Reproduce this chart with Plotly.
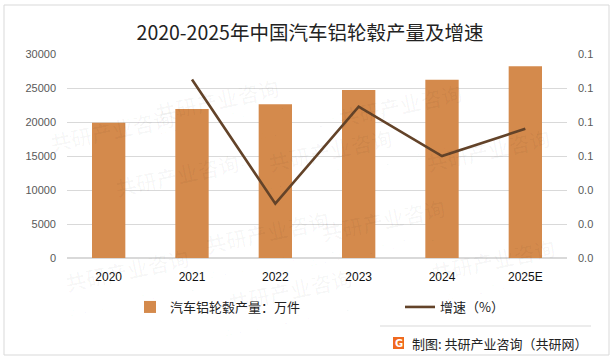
import plotly.graph_objects as go

categories = ["2020", "2021", "2022", "2023", "2024", "2025E"]
output_values = [19900, 21900, 22600, 24700, 26200, 28200]
growth_values = [None, 0.105, 0.032, 0.089, 0.060, 0.076]
left_ticks = [0, 5000, 10000, 15000, 20000, 25000, 30000]
right_ticks = [0, 0.02, 0.04, 0.06, 0.08, 0.10, 0.12]

BAR = "#D48A4C"
LINE = "#634329"
FONT = "Noto Sans CJK SC, Noto Sans, sans-serif"

PH = 204.0
PW = 500.0
def px(x):
    return (x - 67) / PW
def py(y):
    return (258 - y) / PH

fig = go.Figure()
fig.add_trace(go.Bar(
    x=categories, y=output_values, name="汽车铝轮毂产量：万件",
    marker=dict(color=BAR, line=dict(width=0)), width=0.4, yaxis="y", legend="legend",
))
fig.add_trace(go.Scatter(
    x=categories, y=growth_values, name="增速（%）", mode="lines",
    line=dict(color=LINE, width=2.6), yaxis="y2", connectgaps=False, legend="legend2",
))

# watermark
wm = []
for (wx, wy) in [(150, 70), (400, 75), (110, 175), (330, 150), (555, 120),
                 (200, 262), (450, 250), (45, 100), (560, 290), (290, 320), (60, 300)]:
    wm.append(dict(xref="paper", yref="paper", x=px(wx), y=py(wy), text="<b>共研产业咨询</b>",
                   showarrow=False, textangle=-12, font=dict(size=21, color="rgba(0,0,0,0.028)", family=FONT)))
    wm.append(dict(xref="paper", yref="paper", x=px(wx + 5), y=py(wy + 22), text="w w w . g o n y n . c o m",
                   showarrow=False, textangle=-12, font=dict(size=12, color="rgba(0,0,0,0.028)", family="DejaVu Sans")))

annotations = wm + [
    dict(xref="paper", yref="paper", x=px(410), y=py(343), xanchor="left", yanchor="middle",
         text="制图: 共研产业咨询（共研网）", showarrow=False, font=dict(size=13, color="#222", family=FONT)),
    dict(xref="paper", yref="paper", x=px(398.5), y=py(343), xanchor="center", yanchor="middle",
         text="<b>G</b>", showarrow=False, font=dict(size=10, color="white", family="DejaVu Sans")),
]

legend_font = dict(size=13, color="#222", family=FONT)

fig.update_layout(
    width=615, height=360,
    margin=dict(l=67, r=48, t=54, b=102, autoexpand=False),
    paper_bgcolor="white", plot_bgcolor="white",
    font=dict(family=FONT, size=11, color="#444"),
    title=dict(text="2020-2025年中国汽车铝轮毂产量及增速", xref="container", x=310 / 615, xanchor="center",
               y=1 - 33 / 360, yanchor="middle", font=dict(size=19.5, color="#222", family=FONT)),
    showlegend=True,
    legend=dict(orientation="h", xref="container", yref="container", x=130 / 615, y=(360 - 307) / 360,
                xanchor="left", yanchor="middle", font=legend_font, bgcolor="rgba(0,0,0,0)"),
    legend2=dict(orientation="h", xref="container", yref="container", x=400 / 615, y=(360 - 307) / 360,
                 xanchor="left", yanchor="middle", font=legend_font, bgcolor="rgba(0,0,0,0)"),
    xaxis=dict(type="category", showgrid=False, showline=False, ticks="",
               tickfont=dict(size=12, color="#111", family="Liberation Sans, Arial"), ticklabelstandoff=10),
    yaxis=dict(range=[0, 30000], tickvals=left_ticks, tickformat="d", showgrid=True, gridcolor="#D9D9D9", gridwidth=1,
               zeroline=True, zerolinecolor="#D9D9D9", showline=False, ticks="",
               tickfont=dict(size=11, color="#595959", family="Liberation Sans, Arial"), ticklabelstandoff=10),
    yaxis2=dict(range=[0, 0.12], tickvals=right_ticks, tickformat=".1f", overlaying="y", side="right",
                showgrid=False, zeroline=False, showline=False, ticks="",
                tickfont=dict(size=11, color="#595959", family="Liberation Sans, Arial"), ticklabelstandoff=10),
    bargap=0.6,
    annotations=annotations,
    shapes=[
        dict(type="rect", xref="paper", yref="paper", x0=px(4), x1=px(609),
             y0=py(355), y1=py(5), line=dict(color="#D9D9D9", width=1), fillcolor="rgba(0,0,0,0)", layer="below"),
        dict(type="line", xref="paper", yref="paper", x0=px(380), x1=px(591),
             y0=py(326), y1=py(326), line=dict(color="#D9D9D9", width=1)),
        dict(type="rect", xref="paper", yref="paper", x0=px(393), x1=px(404),
             y0=py(349), y1=py(337), line=dict(width=0), fillcolor="#F06A1F"),
    ],
)

fig.write_html("out.html", config={"displayModeBar": False},
               post_script="document.body.style.margin='0';")
